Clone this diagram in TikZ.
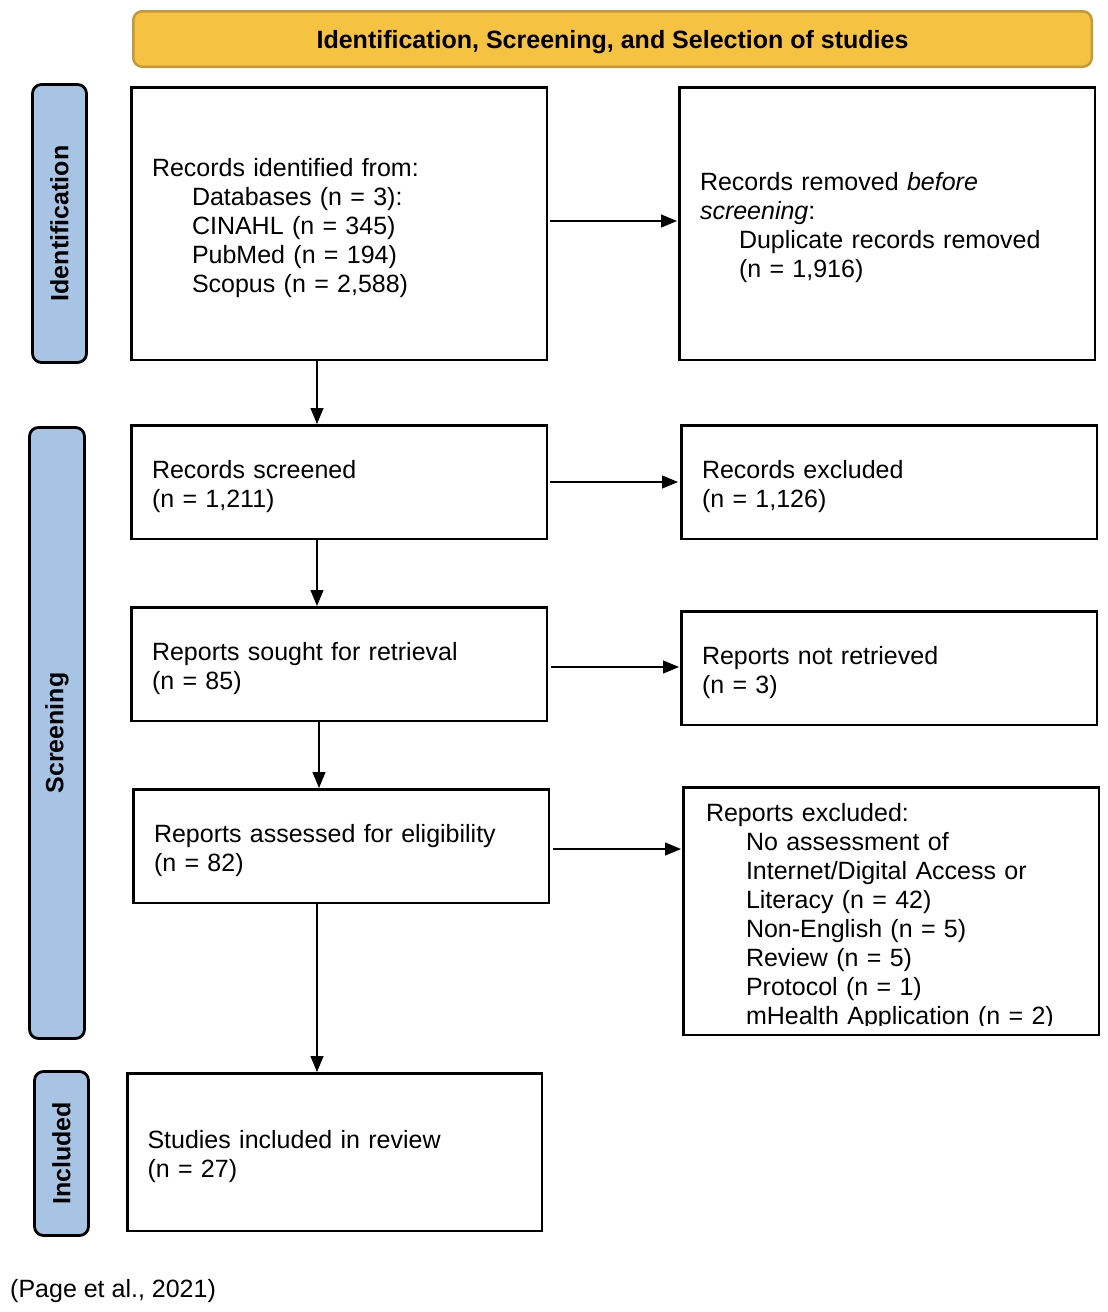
\documentclass[tikz,border=0pt]{standalone}
\usepackage{fontspec}
\setmainfont{Liberation Sans}
\usetikzlibrary{arrows.meta}
\definecolor{hdrfill}{HTML}{F5C242}
\definecolor{hdrdraw}{HTML}{C49A38}
\definecolor{sidefill}{HTML}{A8C4E4}
\begin{document}
\begin{tikzpicture}[x=1pt,y=-1pt,
  txt/.style={font=\fontsize{25}{29}\selectfont},
  box/.style={draw=black, line width=2.5pt, rectangle, minimum width=415.5pt, inner sep=0pt},
  boxtext/.style={txt, text width=374pt, inner sep=0pt, align=left, yshift=-4.5pt},
  sidebox/.style={draw=black, line width=2.8pt, fill=sidefill, rounded corners=9pt,
    rotate=90, inner sep=0pt, font=\fontsize{25}{29}\selectfont\bfseries},
  hdr/.style={draw=hdrdraw, line width=2.5pt, fill=hdrfill, rounded corners=9pt,
    inner sep=0pt, minimum width=958.5pt, minimum height=55.5pt},
  arr/.style={line width=1.2pt, -{Triangle[length=16pt,width=13pt]}},
]
\useasboundingbox (0,0) rectangle (1108,1312);

% header
\node[hdr] (hdr) at (612.5,39) {};
\node[font=\fontsize{25}{29}\selectfont\bfseries, inner sep=0pt, yshift=-3pt] (hdrt) at (hdr.center)
  {Identification, Screening, and Selection of studies};

% side labels
\node[sidebox, minimum width=278pt, minimum height=54pt] (sid) at (59.5,223.5) {Identification};
\node[sidebox, minimum width=611pt, minimum height=55pt] (sscr) at (57,733) {Screening};
\node[sidebox, minimum width=164pt, minimum height=54pt] (sinc) at (61.5,1153.5) {Included};

% boxes
\node[box, minimum height=272.5pt] (b1) at (339,223.5) {};
\node[boxtext] (b1t) at (b1.center) {Records identified from:\\
\hspace*{40pt}Databases (n = 3):\\
\hspace*{40pt}CINAHL (n = 345)\\
\hspace*{40pt}PubMed (n = 194)\\
\hspace*{40pt}Scopus (n = 2,588)};

\node[box, minimum height=272.5pt] (b2) at (887,223.5) {};
\node[boxtext] (b2t) at (b2.center) {Records removed \textit{before}\\
\textit{screening}:\\
\hspace*{39pt}Duplicate records removed\\
\hspace*{39pt}(n = 1,916)};

\node[box, minimum height=113.5pt] (b3) at (339,482) {};
\node[boxtext] (b3t) at (b3.center) {Records screened\\(n = 1,211)};
\node[box, minimum height=113.5pt] (b4) at (889,482) {};
\node[boxtext] (b4t) at (b4.center) {Records excluded\\(n = 1,126)};
\node[box, minimum height=113.5pt] (b5) at (339,664) {};
\node[boxtext] (b5t) at (b5.center) {Reports sought for retrieval\\(n = 85)};
\node[box, minimum height=113.5pt] (b6) at (889,668) {};
\node[boxtext] (b6t) at (b6.center) {Reports not retrieved\\(n = 3)};
\node[box, minimum height=113.5pt] (b7) at (341,846) {};
\node[boxtext] (b7t) at (b7.center) {Reports assessed for eligibility\\(n = 82)};
\node[box, minimum height=247.5pt] (b8) at (891,911) {};
\begin{scope}
  \clip (684,790) rectangle (1098,1025);
  \node[txt, text width=374pt, align=left, inner sep=0pt, anchor=north] (b8t) at (893,803) {Reports excluded:\\
\hspace*{40pt}No assessment of\\
\hspace*{40pt}Internet/Digital Access or\\
\hspace*{40pt}Literacy (n = 42)\\
\hspace*{40pt}Non-English (n = 5)\\
\hspace*{40pt}Review (n = 5)\\
\hspace*{40pt}Protocol (n = 1)\\
\hspace*{40pt}mHealth Application (n = 2)};
\end{scope}
\node[box, minimum height=157.5pt, minimum width=414.5pt] (b9) at (334.5,1152) {};
\node[boxtext] (b9t) at (b9.center) {Studies included in review\\(n = 27)};

% footer
\node[txt, anchor=west, inner sep=0pt] (src) at (10,1291) {(Page et al., 2021)};

% arrows
\draw[arr, shorten <=2pt, shorten >=1pt] ([yshift=2.5pt]b1.east) -- ([yshift=2.5pt]b1.east -| b2.west);
\draw[arr, shorten <=2pt, shorten >=2pt] (b3.east) -- (b3.east -| b4.west);
\draw[arr, shorten <=3pt, shorten >=1pt] ([yshift=-3pt]b5.east) -- ([yshift=-3pt]b5.east -| b6.west);
\draw[arr, shorten <=3pt, shorten >=1pt] ([yshift=-3pt]b7.east) -- ([yshift=-3pt]b7.east -| b8.west);
\draw[arr] ([xshift=-22pt]b1.south) -- ([xshift=-22pt]b1.south |- b3.north);
\draw[arr] ([xshift=-22pt]b3.south) -- ([xshift=-22pt]b3.south |- b5.north);
\draw[arr] ([xshift=-20pt]b5.south) -- ([xshift=-20pt]b5.south |- b7.north);
\draw[arr] ([xshift=-24pt]b7.south) -- ([xshift=-24pt]b7.south |- b9.north);
\end{tikzpicture}
\end{document}
